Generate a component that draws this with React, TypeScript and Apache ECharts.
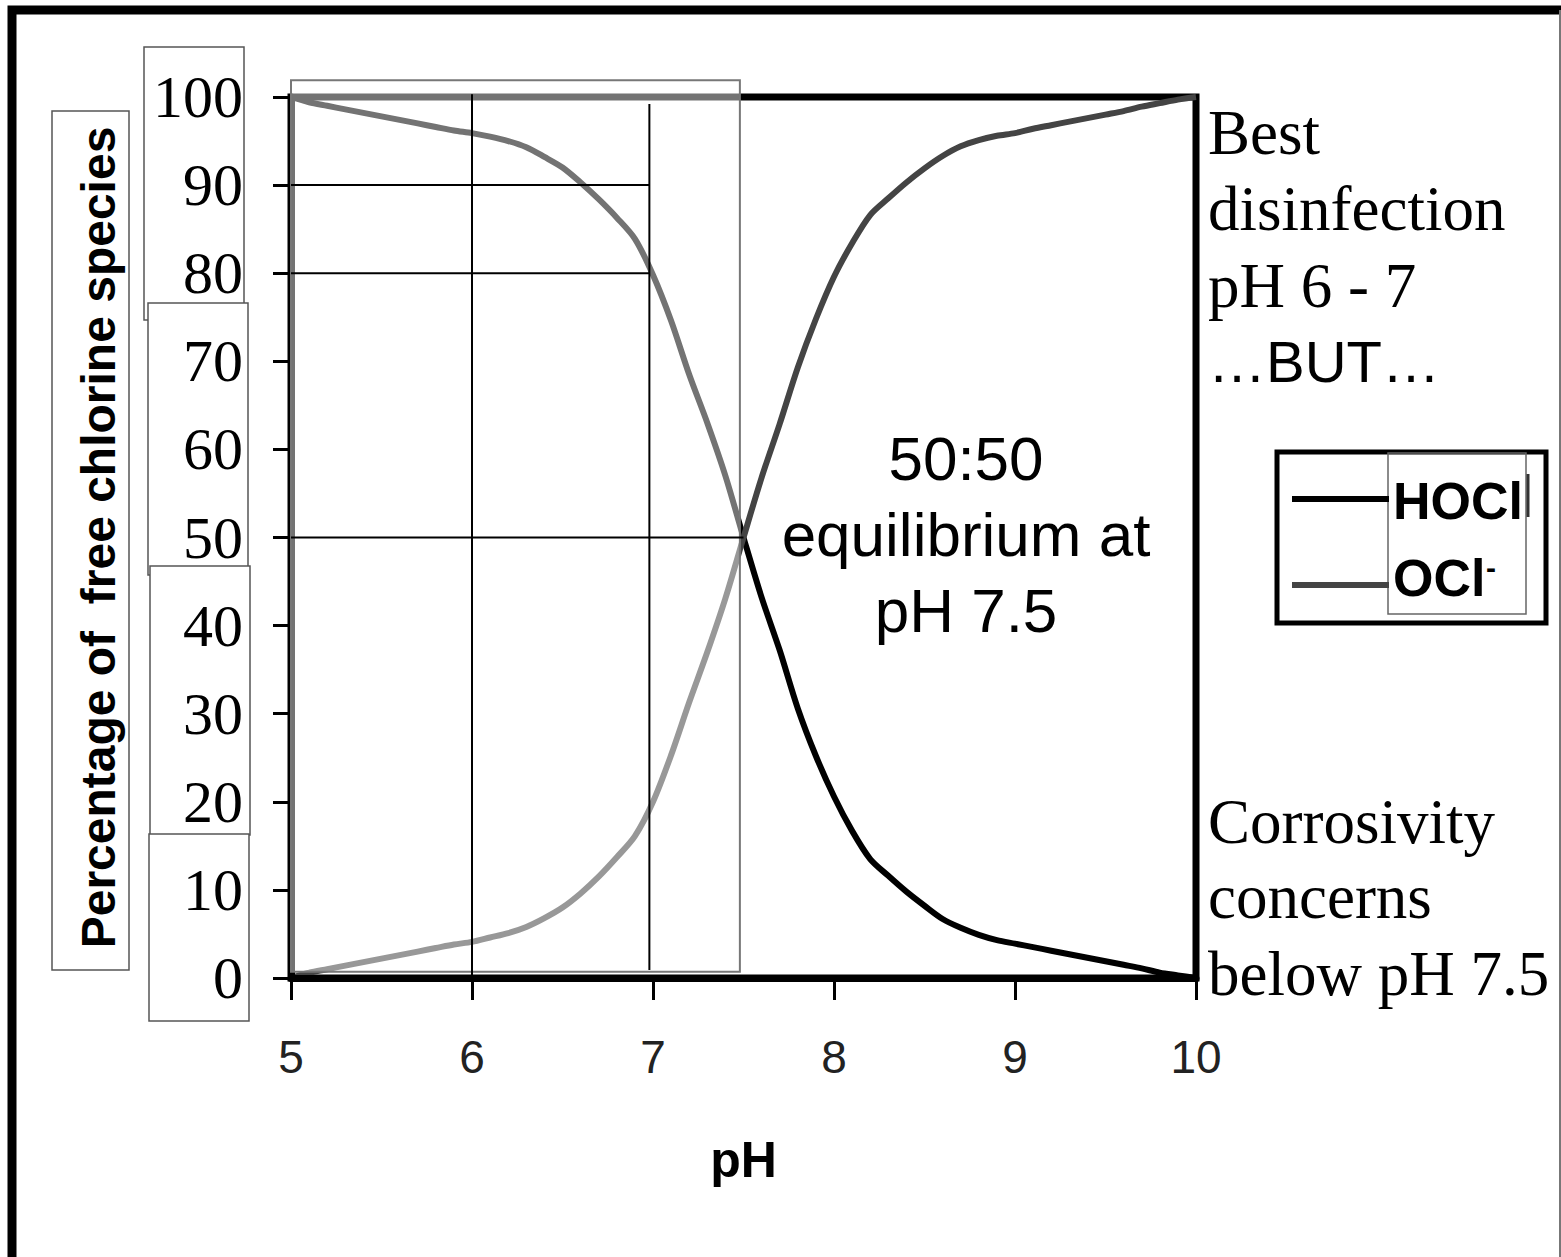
import React, { useEffect, useRef } from "react";
import * as echarts from "echarts";

// ---- data ----
const phValues = [
  5.0, 5.1, 5.2, 5.3, 5.4, 5.5, 5.6, 5.7, 5.8, 5.9,
  6.0, 6.1, 6.2, 6.3, 6.4, 6.5, 6.6, 6.7, 6.8, 6.9,
  7.0, 7.1, 7.2, 7.3, 7.4, 7.5, 7.6, 7.7, 7.8, 7.9,
  8.0, 8.1, 8.2, 8.3, 8.4, 8.5, 8.6, 8.7, 8.8, 8.9,
  9.0, 9.1, 9.2, 9.3, 9.4, 9.5, 9.6, 9.7, 9.8, 9.9, 10.0,
];
const hoclValues = [
  100, 99.4, 99.0, 98.6, 98.2, 97.8, 97.4, 97.0, 96.6, 96.2,
  95.9, 95.5, 95.0, 94.3, 93.2, 92.0, 90.3, 88.4, 86.3, 83.9,
  79.8, 74.6, 68.5, 63.0, 57.0, 50.0, 43.2, 37.2, 30.6, 25.2,
  20.6, 16.7, 13.5, 11.6, 9.8, 8.2, 6.7, 5.7, 4.9, 4.3,
  3.9, 3.5, 3.1, 2.7, 2.3, 1.9, 1.5, 1.1, 0.6, 0.3, 0,
];
const oclValues = [
  0, 0.6, 1.0, 1.4, 1.8, 2.2, 2.6, 3.0, 3.4, 3.8,
  4.1, 4.6, 5.1, 5.8, 6.8, 8.0, 9.6, 11.5, 13.7, 16.1,
  20.0, 25.3, 31.3, 37.0, 43.1, 50.0, 56.8, 62.9, 69.3, 74.8,
  79.6, 83.4, 86.6, 88.5, 90.3, 91.9, 93.3, 94.4, 95.1, 95.6,
  95.9, 96.4, 96.8, 97.2, 97.6, 98.0, 98.4, 98.9, 99.3, 99.7, 100,
];
const xTickValues = [5, 6, 7, 8, 9, 10];
const yTickValues = [0, 10, 20, 30, 40, 50, 60, 70, 80, 90, 100];

// reference (guide) lines in data units
const refVertical = [
  { x: 6, from: 100.3, to: 0 },
  { x: 6.98, from: 99.2, to: 0.9 },
];
const refHorizontal = [
  { y: 90, from: 5, to: 6.98 },
  { y: 80, from: 5, to: 6.98 },
  { y: 50, from: 5, to: 7.5 },
];
// highlighted (faded) pH range box
const shadedPh = [5, 7.48];
const shadedPct = [101.9, 0.7];

const SERIF = '"Liberation Serif", "Times New Roman", serif';
const SANS = '"Liberation Sans", Arial, sans-serif';

export default function App() {
  const ref = useRef<HTMLDivElement>(null);

  useEffect(() => {
    if (!ref.current) return;
    const chart = echarts.init(ref.current, null, { renderer: "svg" });
    chart.setOption({
      animation: false,
      backgroundColor: "#ffffff",
      grid: {
        left: 291,
        top: 97,
        width: 905,
        height: 881,
        show: true,
        borderColor: "#000",
        borderWidth: 7,
        backgroundColor: "transparent",
      },
      xAxis: {
        type: "value",
        min: 5,
        max: 10,
        interval: 1,
        z: 3,
        name: "pH",
        nameLocation: "middle",
        nameGap: 157,
        nameTextStyle: { fontFamily: SANS, fontWeight: "bold", fontSize: 50, color: "#000" },
        axisLine: { show: true, onZero: false, lineStyle: { color: "#000", width: 7 } },
        axisTick: { show: true, inside: false, length: 22, lineStyle: { color: "#000", width: 3 } },
        axisLabel: {
          margin: 56,
          fontFamily: SANS,
          fontSize: 46,
          color: "#222",
          customValues: xTickValues,
        },
        splitLine: { show: false },
      },
      yAxis: {
        type: "value",
        min: 0,
        max: 100,
        interval: 10,
        z: 3,
        name: "Percentage of  free chlorine species",
        nameLocation: "middle",
        nameRotate: 90,
        nameGap: 169,
        nameTextStyle: { fontFamily: SANS, fontWeight: "bold", fontSize: 48, color: "#000" },
        axisLine: { show: true, onZero: false, lineStyle: { color: "#000", width: 7 } },
        axisTick: { show: true, inside: false, length: 18, lineStyle: { color: "#000", width: 3 } },
        axisLabel: {
          margin: 48,
          fontFamily: SERIF,
          fontSize: 60,
          color: "#000",
          customValues: yTickValues,
        },
        splitLine: { show: false },
      },
      series: [
        {
          type: "line",
          name: "HOCl",
          data: phValues.map((p, i) => [p, hoclValues[i]]),
          showSymbol: false,
          smooth: 0.3,
          lineStyle: { color: "#000", width: 6 },
          z: 2,
        },
        {
          type: "line",
          name: "OCl-",
          data: phValues.map((p, i) => [p, oclValues[i]]),
          showSymbol: false,
          smooth: 0.3,
          lineStyle: { color: "#444", width: 6 },
          z: 2,
        },
      ],
    });

    const px = (x: number, y: number) =>
      chart.convertToPixel({ gridIndex: 0 }, [x, y]) as number[];

    const ovA = px(shadedPh[0], shadedPct[0]);
    const ovB = px(shadedPh[1], shadedPct[1]);

    const graphic: any[] = [];
    // outer frame
    graphic.push({
      type: "rect",
      z: 1,
      shape: { x: 12, y: 10, width: 1600, height: 1300 },
      style: { fill: "none", stroke: "#000", lineWidth: 9 },
    });
    graphic.push({
      type: "line",
      z: 1,
      shape: { x1: 1560, y1: 10, x2: 1560, y2: 1257 },
      style: { stroke: "#777", lineWidth: 2 },
    });
    // label boxes
    const boxes = [
      { x: 52, y: 111, w: 77, h: 859 },
      { x: 144, y: 47, w: 100, h: 273 },
      { x: 148, y: 303, w: 100, h: 272 },
      { x: 150, y: 566, w: 100, h: 269 },
      { x: 149, y: 834, w: 100, h: 187 },
    ];
    boxes.forEach((b) =>
      graphic.push({
        type: "rect",
        z: 1,
        shape: { x: b.x, y: b.y, width: b.w, height: b.h },
        style: { fill: "#fff", stroke: "#555", lineWidth: 1.5 },
      })
    );
    // faded overlay box
    graphic.push({
      type: "rect",
      z: 10,
      shape: { x: ovA[0], y: ovA[1], width: ovB[0] - ovA[0], height: ovB[1] - ovA[1] },
      style: { fill: "rgba(255,255,255,0.45)", stroke: "#777", lineWidth: 2 },
    });
    // guide lines
    refVertical.forEach((v) => {
      const a = px(v.x, v.from);
      const b = px(v.x, v.to);
      graphic.push({
        type: "line",
        z: 12,
        shape: { x1: a[0], y1: a[1], x2: b[0], y2: b[1] },
        style: { stroke: "#000", lineWidth: 2 },
      });
    });
    refHorizontal.forEach((h) => {
      const a = px(h.from, h.y);
      const b = px(h.to, h.y);
      graphic.push({
        type: "line",
        z: 12,
        shape: { x1: a[0], y1: a[1], x2: b[0], y2: b[1] },
        style: { stroke: "#000", lineWidth: 2 },
      });
    });
    // annotation texts
    const txt = (text: string, x: number, y: number, font: string, size: number, align = "left", weight = "normal") =>
      graphic.push({
        type: "text",
        z: 12,
        x,
        y,
        style: {
          text,
          fontFamily: font,
          fontSize: size,
          fontWeight: weight,
          fill: "#000",
          align,
          verticalAlign: "middle",
        },
      });
    txt("Best", 1208, 133, SERIF, 63);
    txt("disinfection", 1208, 209, SERIF, 63);
    txt("pH 6 - 7", 1208, 286, SERIF, 63);
    txt("\u2026BUT\u2026", 1208, 361, SANS, 58);
    txt("Corrosivity", 1208, 822, SERIF, 63);
    txt("concerns", 1208, 897, SERIF, 63);
    txt("below pH 7.5", 1208, 974, SERIF, 63);
    txt("50:50", 966, 458, SANS, 62, "center");
    txt("equilibrium at", 966, 534, SANS, 62, "center");
    txt("pH 7.5", 966, 610, SANS, 62, "center");

    // legend
    graphic.push({
      type: "rect",
      z: 12,
      shape: { x: 1277, y: 452, width: 269, height: 171 },
      style: { fill: "#fff", stroke: "#000", lineWidth: 5 },
    });
    graphic.push({
      type: "rect",
      z: 13,
      shape: { x: 1388, y: 453, width: 138, height: 161 },
      style: { fill: "none", stroke: "#666", lineWidth: 1.5 },
    });
    graphic.push({
      type: "line",
      z: 13,
      shape: { x1: 1528, y1: 474, x2: 1528, y2: 517 },
      style: { stroke: "#333", lineWidth: 3 },
    });
    graphic.push({
      type: "line",
      z: 13,
      shape: { x1: 1292, y1: 499, x2: 1389, y2: 499 },
      style: { stroke: "#000", lineWidth: 6 },
    });
    graphic.push({
      type: "line",
      z: 13,
      shape: { x1: 1292, y1: 585, x2: 1389, y2: 585 },
      style: { stroke: "#444", lineWidth: 6 },
    });
    txt("HOCl", 1393, 501, SANS, 52, "left", "bold");
    txt("OCl", 1393, 578, SANS, 52, "left", "bold");
    txt("-", 1486, 567, SANS, 30, "left", "bold");

    chart.setOption({ graphic });

    return () => chart.dispose();
  }, []);

  return (
    <div
      ref={ref}
      style={{ position: "absolute", left: 0, top: 0, width: 1561, height: 1257 }}
    />
  );
}
